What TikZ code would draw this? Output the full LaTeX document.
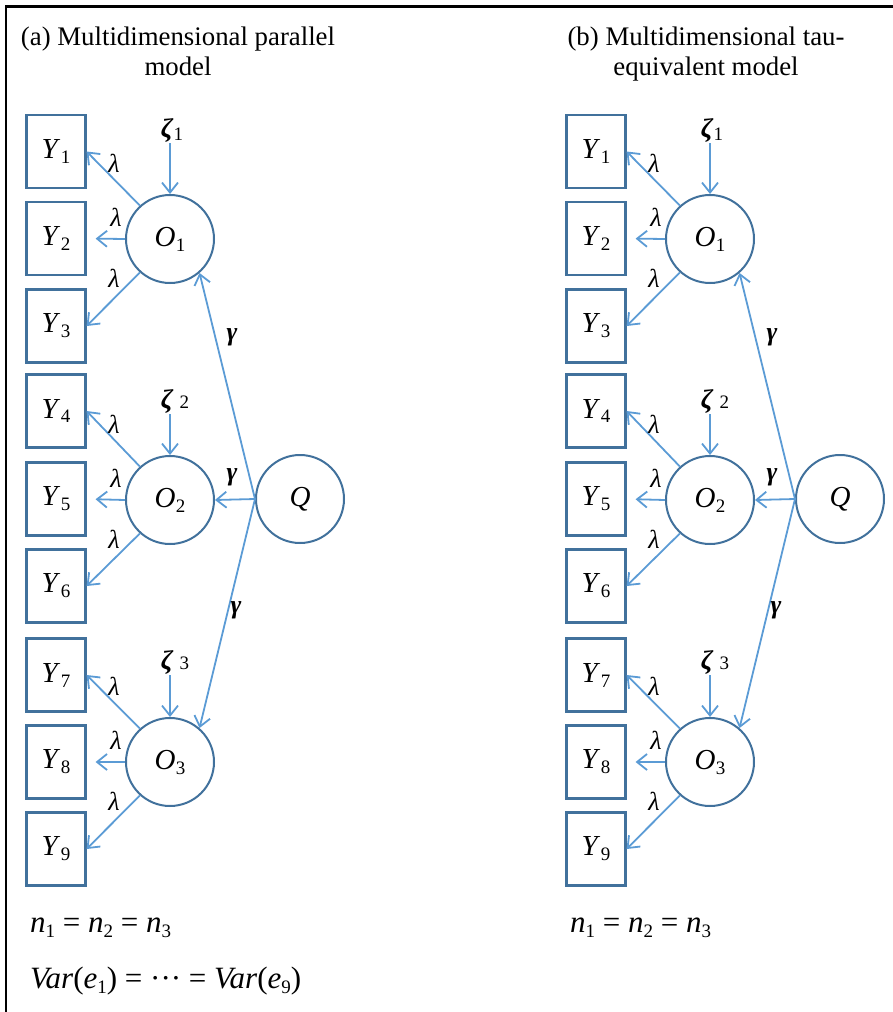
\documentclass[tikz,border=0pt]{standalone}
\usepackage{fontspec}
\setmainfont{Liberation Serif}
\usetikzlibrary{arrows.meta}
\definecolor{boxblue}{HTML}{41719C}
\definecolor{arrblue}{HTML}{5B9BD5}
\newcommand\vsub[2]{\textit{#1}\kern0.5pt\raisebox{-5pt}{\fontsize{19}{19}\selectfont #2}}
\newcommand\nsub[2]{\textit{#1}\raisebox{-5pt}{\fontsize{19}{19}\selectfont #2}}
\begin{document}
\begin{tikzpicture}[x=1pt,y=-1pt,
  obs/.style={draw=boxblue, line width=2.2pt, minimum width=59pt, minimum height=73pt, inner sep=0pt, font=\fontsize{29}{29}\selectfont},
  lat/.style={circle, draw=boxblue, line width=2pt, minimum size=88pt, inner sep=0pt, font=\fontsize{29}{29}\selectfont},
  arr/.style={draw=arrblue, line width=1.8pt, -{Straight Barb[length=10pt,width=16pt]}},
  lam/.style={font=\fontsize{26}{26}\selectfont\itshape, inner sep=0pt},
  gam/.style={font=\fontsize{26}{26}\selectfont\bfseries\itshape, inner sep=0pt},
  zet/.style={font=\fontsize{27}{27}\selectfont, inner sep=1pt},
  eqn/.style={font=\fontsize{31}{31}\selectfont, anchor=base west, inner sep=0pt},
  ttl/.style={font=\fontsize{26.8}{30}\selectfont, align=center, anchor=base, inner sep=0pt}]
\useasboundingbox (0,0) rectangle (893,1012);
\draw[line width=2.5pt] (6,1012) -- (6,6.5) -- (893,6.5);
\node[ttl] (ta) at (178,75) {(a) Multidimensional parallel\\model};
\node[ttl] (tb) at (706,75) {(b) Multidimensional tau-\\equivalent model};
\foreach \p/\dx in {a/0,b/540}{
\begin{scope}[xshift=\dx pt]
  \node[obs] (\p Y1) at (56,151.5) {\vsub{Y}{1}};
  \node[obs] (\p Y2) at (56,238.5) {\vsub{Y}{2}};
  \node[obs] (\p Y3) at (56,326) {\vsub{Y}{3}};
  \node[obs] (\p Y4) at (56,411) {\vsub{Y}{4}};
  \node[obs] (\p Y5) at (56,499) {\vsub{Y}{5}};
  \node[obs] (\p Y6) at (56,586) {\vsub{Y}{6}};
  \node[obs] (\p Y7) at (56,675) {\vsub{Y}{7}};
  \node[obs] (\p Y8) at (56,762) {\vsub{Y}{8}};
  \node[obs] (\p Y9) at (56,849) {\vsub{Y}{9}};
  \node[lat] (\p O1) at (170,239) {\vsub{O}{1}};
  \node[lat] (\p O2) at (170,500) {\vsub{O}{2}};
  \node[lat] (\p O3) at (170,762) {\vsub{O}{3}};
  \node[lat] (\p Q) at (300,499) {\textit{Q}};
  \node[zet] (\p z1) at (172,130) {\textbf{\textit{ζ}}\raisebox{-3pt}{\fontsize{19}{19}\selectfont 1}};
  \node[zet] (\p z2) at (175,401) {\textbf{\textit{ζ}}\hspace{6pt}{\fontsize{19}{19}\selectfont 2}};
  \node[zet] (\p z3) at (175,662) {\textbf{\textit{ζ}}\hspace{6pt}{\fontsize{19}{19}\selectfont 3}};
  \draw[arr] (\p z1.south -| \p O1.north) -- (\p O1.north);
  \draw[arr] (\p z2.south -| \p O2.north) -- (\p O2.north);
  \draw[arr] (\p z3.south -| \p O3.north) -- (\p O3.north);
  \foreach \g/\off in {1/0,2/261,3/523}{
    \pgfmathtruncatemacro\ya{3*\g-2}
    \pgfmathtruncatemacro\yb{3*\g-1}
    \pgfmathtruncatemacro\yc{3*\g}
    \draw[arr] (\p O\g.132) -- (\p Y\ya.east);
    \draw[arr, shorten >=9pt] (\p O\g.west) -- (\p Y\yb.east);
    \draw[arr] (\p O\g.228) -- (\p Y\yc.east);
    \node[lam] (\p la\ya) at (114,163+\off) {λ};
    \node[lam] (\p la\yb) at (116,217+\off) {λ};
    \node[lam] (\p la\yc) at (114,278+\off) {λ};
  }
  \draw[arr] (\p Q.west) -- (\p O1.-49);
  \draw[arr] (\p Q.west) -- (\p O2.east);
  \draw[arr] (\p Q.west) -- (\p O3.49);
  \node[gam] (\p g1) at (232,337) {γ};
  \node[gam] (\p g2) at (232,477) {γ};
  \node[gam] (\p g3) at (236,610) {γ};
  \node[eqn] (\p n) at (30,932) {\nsub{n}{1} = \nsub{n}{2} = \nsub{n}{3}};
\end{scope}
}
\node[eqn] (var) at (30,988) {\textit{Var}(\nsub{e}{1}) = ··· = \textit{Var}(\nsub{e}{9})};
\end{tikzpicture}
\end{document}
